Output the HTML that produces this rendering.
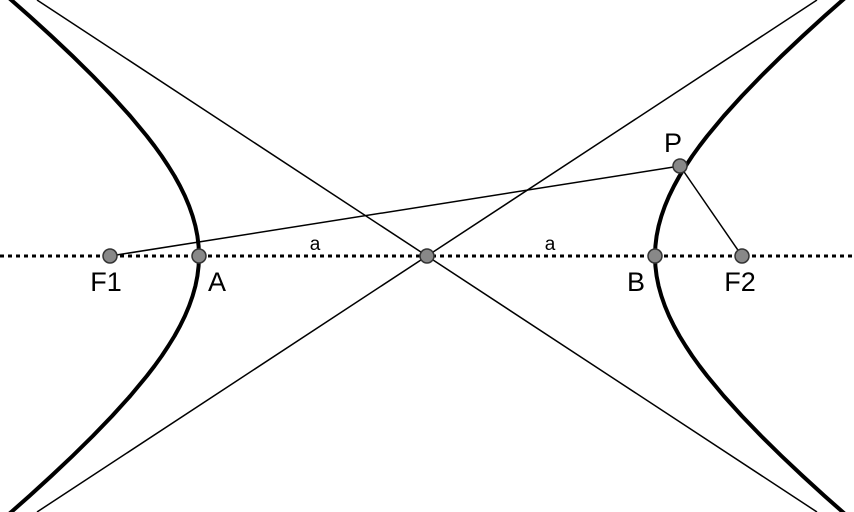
<!DOCTYPE html>
<html><head><meta charset="utf-8"><style>html,body{margin:0;padding:0;background:#fff}svg{display:block}</style></head>
<body>
<svg width="854" height="512" viewBox="0 0 854 512" xmlns="http://www.w3.org/2000/svg">
<rect width="854" height="512" fill="#fff"/>
<g fill="none" stroke="#000" stroke-width="4" stroke-linejoin="round">
<polyline points="-4.6,-14 29.4,16 51.3,36 72.5,56 92.8,76 112.1,96 130.2,116 146.8,136 154.5,146 161.7,156 168.3,166 174.5,176 180,186 184.9,196 189.1,206 192.6,216 195.4,226 197.4,236 198.6,246 199,256 198.6,266 197.4,276 195.4,286 192.6,296 189.1,306 184.9,316 180,326 174.5,336 168.3,346 161.7,356 154.5,366 146.8,376 130.2,396 112.1,416 92.8,436 72.5,456 51.3,476 29.4,496 -4.6,526"/>
<polyline points="858.6,-14 824.6,16 802.7,36 781.5,56 761.2,76 741.9,96 723.8,116 707.2,136 699.5,146 692.3,156 685.7,166 679.5,176 674,186 669.1,196 664.9,206 661.4,216 658.6,226 656.6,236 655.4,246 655,256 655.4,266 656.6,276 658.6,286 661.4,296 664.9,306 669.1,316 674,326 679.5,336 685.7,346 692.3,356 699.5,366 707.2,376 723.8,396 741.9,416 761.2,436 781.5,456 802.7,476 824.6,496 858.6,526"/>
</g>
<g stroke="#000" stroke-width="1.5">
<line x1="37" y1="0" x2="817" y2="512"/>
<line x1="817" y1="0" x2="37" y2="512"/>
<line x1="110" y1="256" x2="680" y2="166"/>
<line x1="680" y1="166" x2="742" y2="256"/>
</g>
<line x1="0" y1="256" x2="854" y2="256" stroke="#000" stroke-width="3" stroke-dasharray="4,4"/>
<g fill="#888" stroke="#333" stroke-width="1.5">
<circle cx="110" cy="256" r="7"/>
<circle cx="199" cy="256" r="7"/>
<circle cx="427" cy="256" r="7"/>
<circle cx="655" cy="256" r="7"/>
<circle cx="742" cy="256" r="7"/>
<circle cx="680" cy="166" r="7"/>
</g>
<g font-family="Liberation Sans, sans-serif" font-size="27" fill="#000" text-anchor="middle">
<text x="106" y="291">F1</text>
<text x="217" y="291">A</text>
<text x="636" y="291">B</text>
<text x="740" y="291">F2</text>
<text x="673" y="152">P</text>
<text x="315" y="250" font-size="19">a</text>
<text x="550" y="250" font-size="19">a</text>
</g>
</svg>
</body></html>
